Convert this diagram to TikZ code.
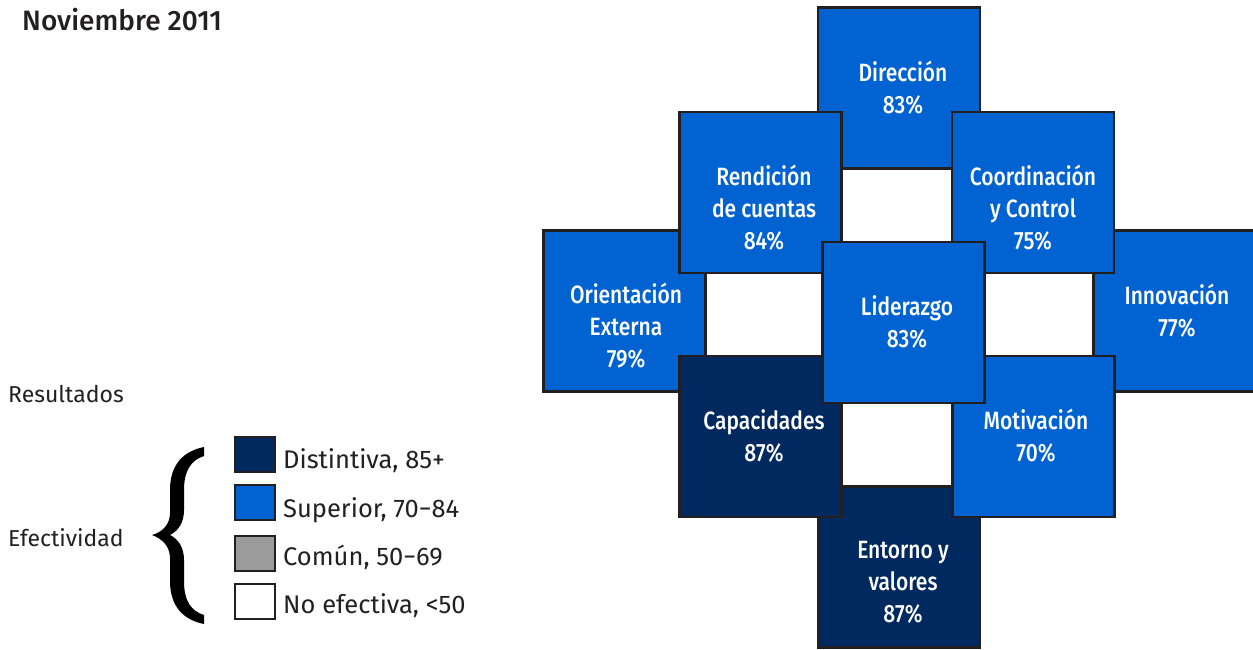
\documentclass[tikz,border=0pt]{standalone}
\usepackage{fontspec}
\setmainfont[FakeStretch=0.84]{Fira Sans}
\newfontfamily\medfont[FakeStretch=0.84]{Fira Sans Medium}
\newfontfamily\medwide{Fira Sans Medium}
\newfontfamily\regwide[Ligatures=TeX]{Fira Sans}
\definecolor{blu}{HTML}{0063D1}
\definecolor{navy}{HTML}{00295F}
\definecolor{edge}{HTML}{231F20}
\definecolor{gry}{HTML}{9B9B9B}
\begin{document}
\begin{tikzpicture}[x=1pt,y=-1pt,
 cell/.style={draw=edge, line width=2.8pt, minimum width=162pt, minimum height=161pt, inner sep=0pt, outer sep=0pt},
 hi/.style={cell, fill=blu},
 dk/.style={cell, fill=navy},
 lbl/.style={text=white, font=\medfont\fontsize{25}{32}\selectfont, align=center, inner sep=0pt},
 key/.style={draw=edge, line width=2pt, minimum width=40pt, minimum height=35pt, inner sep=0pt},
 keytxt/.style={anchor=base west, inner sep=0pt, font=\regwide\fontsize{25.5}{30}\selectfont, text=edge},
 side/.style={anchor=base west, inner sep=0pt, font=\regwide\fontsize{23}{28}\selectfont, text=edge}]
\useasboundingbox (0,0) rectangle (1253,649);
\clip (0,0) rectangle (1253,649);
% back layer
\node[hi] (dir) at (899,88) {};
\node[hi] (ori) at (624.5,311) {};
\node[hi] (inn) at (1174.5,311) {};
\node[dk] (ent) at (899,567) {};
% middle layer
\node[hi] (ren) at (760.5,192.5) {};
\node[hi] (coo) at (1033,192.5) {};
\node[dk] (cap) at (760.5,436.5) {};
\node[hi] (mot) at (1033.5,436.5) {};
% top
\node[hi] (lid) at (903.5,322.5) {};
% labels
\node[lbl] (dirT) at (903,88) {Dirección\\83\%};
\node[lbl] (renT) at (764,208) {Rendición\\de cuentas\\84\%};
\node[lbl] (cooT) at (1033,208) {Coordinación\\y Control\\75\%};
\node[lbl] (oriT) at (626,326) {Orientación\\Externa\\79\%};
\node[lbl] (innT) at (1177,311) {Innovación\\77\%};
\node[lbl] (lidT) at (907,322) {Liderazgo\\83\%};
\node[lbl] (capT) at (764,436) {Capacidades\\87\%};
\node[lbl] (motT) at (1036,436) {Motivación\\70\%};
\node[lbl] (entT) at (903,582) {Entorno y\\valores\\87\%};
% title
\node[anchor=base west, inner sep=0pt, font=\medwide\fontsize{28}{32}\selectfont, text=edge] (title) at (22,30) {Noviembre 2011};
% side texts
\node[side] (res) at (8,402) {Resultados};
\node[side] (efe) at (8,546) {Efectividad};
% brace
\fill[black] (204,447) .. controls (184,451) and (170,464) .. (170,490)
  -- (170,513) .. controls (170,524) and (163,532) .. (152,535)
  .. controls (163,539) and (170,547) .. (170,558)
  -- (170,581) .. controls (170,607) and (184,620) .. (204,624)
  -- (204,615) .. controls (191,611) and (184,601) .. (184,581)
  -- (184,560) .. controls (184,547) and (178,539) .. (170,535)
  .. controls (178,531) and (184,523) .. (184,510)
  -- (184,490) .. controls (184,471) and (191,460) .. (204,456) -- cycle;
% legend
\node[key, fill=navy] (k1) at (255,454.5) {};
\node[key, fill=blu] (k2) at (255,502) {};
\node[key, fill=gry] (k3) at (255,553.5) {};
\node[key, fill=white] (k4) at (255,601) {};
\node[keytxt] (t1) at (283,468) {Distintiva, 85+};
\node[keytxt] (t2) at (283,517) {Superior, 70−84};
\node[keytxt] (t3) at (283,565) {Común, 50−69};
\node[keytxt] (t4) at (283,613) {No efectiva, <50};
\end{tikzpicture}
\end{document}
